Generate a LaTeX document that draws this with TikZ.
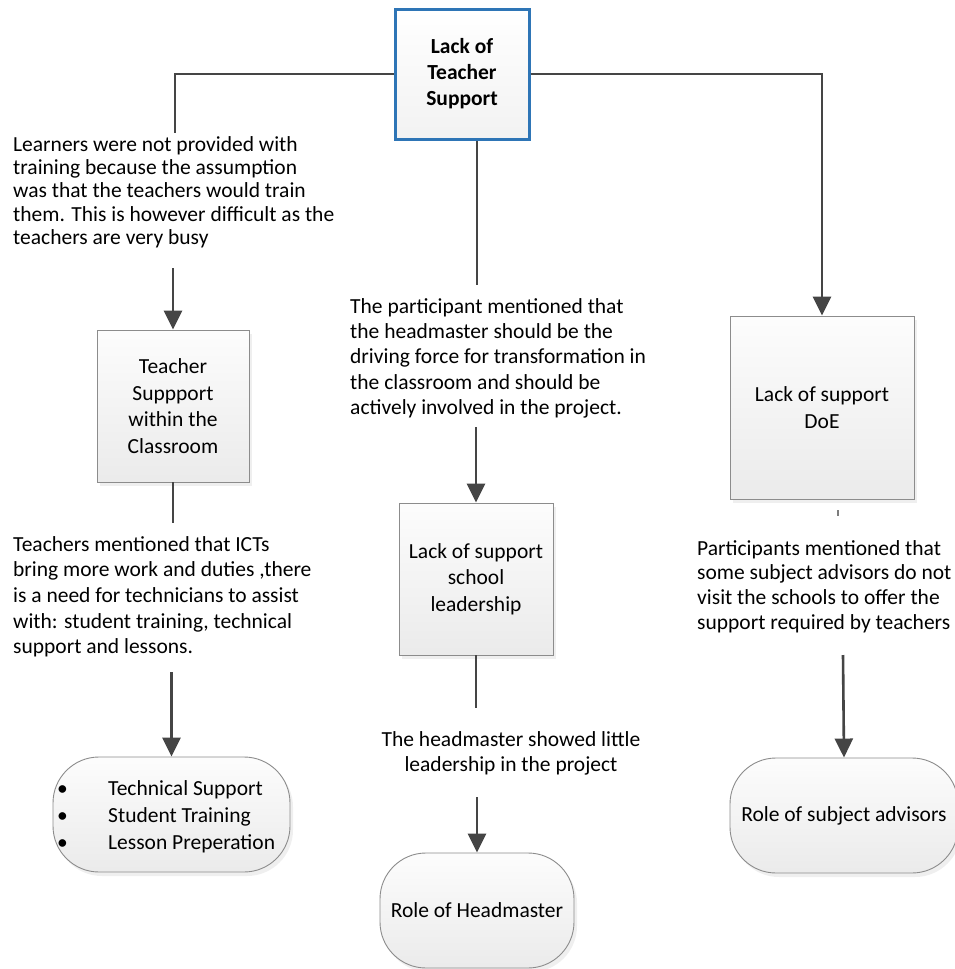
\documentclass[tikz,border=0pt]{standalone}
\usepackage{fontspec}
\setmainfont{Carlito}
\usetikzlibrary{arrows.meta,shadows,calc}
\definecolor{linegray}{HTML}{454545}
\definecolor{topblue}{HTML}{2E75B6}
\definecolor{boxedge}{HTML}{8C8C8C}
\newcommand\bodyfont[1]{\fontsize{21.5}{#1}\selectfont}

\begin{document}
\begin{tikzpicture}[x=1pt,y=-1pt,
  link/.style={draw=linegray,line width=2.6pt},
  flow/.style={link,-{Triangle[width=18pt,length=19pt]}},
  note/.style={anchor=north west,inner sep=0pt,align=left,font=\bodyfont{#1}},
  panel/.style={draw=boxedge,line width=0.9pt,top color=black!1,bottom color=black!8,
    drop shadow={opacity=0.12,shadow xshift=3pt,shadow yshift=-4pt},
    align=center,inner sep=0pt,font=\bodyfont{26.5}},
  pill/.style={panel,rounded corners=46pt},
]
\fill[white] (0,0) rectangle (955,969);
\useasboundingbox (0,0) rectangle (955,969);

% main problem box
\node[draw=topblue,line width=3pt,top color=white,bottom color=black!5,
      minimum width=134pt,minimum height=130pt,inner sep=0pt,align=center,
      font=\bodyfont{26}\bfseries] (top) at (462,74) {Lack of\\Teacher\\Support};

% second level boxes
\node[panel,minimum width=152pt,minimum height=152pt] (tsc) at (173,406)
  {Teacher\\Suppport\\within the\\Classroom};
\node[panel,minimum width=154pt,minimum height=152pt] (lsl) at (476,579)
  {Lack of support\\school\\leadership};
\node[panel,minimum width=184pt,minimum height=183pt] (doe) at (822,407.5)
  {Lack of support\\DoE};

% outcome pills
\node[pill,minimum width=237pt,minimum height=115pt] (pill1) at (171.5,814.5) {};
\node[anchor=west,inner sep=0pt,font=\bodyfont{27}] (list1) at (57,817)
  {\begin{tabular}{@{}p{51pt}@{}l@{}}
   • & Technical Support\\
   • & Student Training\\
   • & Lesson Preperation
   \end{tabular}};
\node[pill,minimum width=194pt,minimum height=115pt] (pill2) at (477,910.5)
  {Role of Headmaster};
\node[pill,minimum width=228pt,minimum height=115pt] (pill3) at (844,815.5)
  {Role of subject advisors};

% explanatory notes
\node[note=23.3] (lt) at (13,136)
  {Learners were not provided with\\training because the assumption\\was that the teachers would train\\them. This is however difficult as the\\teachers are very busy};
\node[note=25.7] (lm) at (13,536)
  {Teachers mentioned that ICTs\\bring more work and duties ,there\\is a need for technicians to assist\\with: student training, technical\\support and lessons.};
\node[note=25.3] (ct) at (350,298)
  {The participant mentioned that\\the headmaster should be the\\driving force for transformation in\\the classroom and should be\\actively involved in the project.};
\node[anchor=north,inner sep=0pt,align=center,font=\bodyfont{25}] (cb) at (511,731)
  {The headmaster showed little\\leadership in the project};
\node[note=24.7] (rt) at (697,540)
  {Participants mentioned that\\some subject advisors do not\\visit the schools to offer the\\support required by teachers};

% connector ends
\coordinate (c1) at (175,133);
\coordinate (c2) at (477,285);
\coordinate (a1) at (173,268);
\coordinate (c3) at (173,523);
\coordinate (a2) at (171.5,672);
\coordinate (a3) at (476,427);
\coordinate (c4) at (476,708);
\coordinate (a4) at (477,797);
\coordinate (a5) at (843,655);
\coordinate (t1) at (838,510);
\coordinate (t2) at (838,516);

% connectors
\draw[link] (top.west) -| (c1);
\draw[flow] (top.east) -| (doe.north);
\draw[link] (top.south -| c2) -- (c2);
\draw[flow] (a1) -- (tsc.north);
\draw[link] (tsc.south) -- (c3);
\draw[flow] (a2) -- (pill1.north);
\draw[flow] (a3) -- (lsl.north);
\draw[link] (lsl.south) -- (c4);
\draw[flow] (a4) -- (pill2.north);
\draw[flow] (a5) -- (pill3.north);
\draw[linegray!70,line width=1.5pt] (t1) -- (t2);
\end{tikzpicture}
\end{document}
